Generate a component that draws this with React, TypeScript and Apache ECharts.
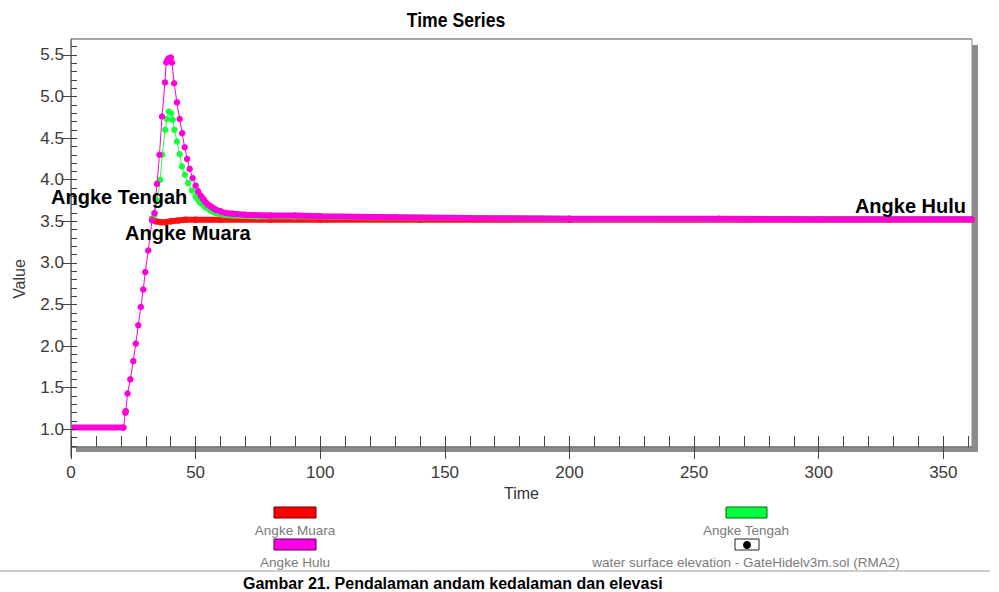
import React, { useEffect, useRef } from "react";
import * as echarts from "echarts";

// ---------- data (time, value) ----------
const huluStart: number[][] = [[0, 1.02], [21.1, 1.02]];
const huluMain: number[][] = [
  [21.1, 1.02], [21.8, 1.2], [22.0, 1.22], [22.7, 1.43], [23.8, 1.6], [25, 1.82], [26, 2.03], [27, 2.25],
  [28, 2.47], [29, 2.68], [29.8, 2.89], [31, 3.15], [32.5, 3.51], [33.5, 3.6], [34.5, 3.95], [35.5, 4.3],
  [36.5, 4.76], [37.7, 5.17], [38.2, 5.41], [38.7, 5.44], [39.2, 5.46], [40.1, 5.47], [40.5, 5.41],
  [41.4, 5.16], [42.5, 4.93], [43.6, 4.73], [44.6, 4.56], [45.6, 4.39], [46.6, 4.25], [47.6, 4.13],
  [48.8, 4.02], [50, 3.93], [51, 3.86], [52, 3.81], [53, 3.77], [54, 3.73], [55, 3.7], [56, 3.68],
  [57, 3.66], [58, 3.64], [60, 3.62], [62, 3.6], [65, 3.59], [70, 3.58], [80, 3.57], [90, 3.57],
  [100, 3.56], [130, 3.55], [160, 3.54], [200, 3.53], [260, 3.53], [300, 3.525], [361.5, 3.525],
];
const tengahMain: number[][] = [
  [32.5, 3.52], [33.5, 3.58], [34.5, 3.75], [35.8, 4.0], [36.6, 4.3], [37.8, 4.6], [38.5, 4.73],
  [39.2, 4.82], [40.2, 4.8], [40.8, 4.72], [41.5, 4.6], [42.5, 4.46], [43.6, 4.31], [44.5, 4.16],
  [45.7, 4.06], [47, 3.96], [48.5, 3.87], [50, 3.8], [52, 3.72], [54, 3.67], [56, 3.63], [58, 3.6],
  [61, 3.58], [65, 3.57], [75, 3.56], [90, 3.56], [120, 3.55], [200, 3.53], [361.5, 3.525],
];
const muaraMain: number[][] = [
  [32.5, 3.53], [34, 3.5], [36, 3.49], [38, 3.49], [40, 3.5], [43, 3.51], [46, 3.52], [50, 3.52],
  [60, 3.52], [80, 3.52], [100, 3.52], [140, 3.52], [200, 3.52], [361.5, 3.52],
];

const X_LABELS = [0, 50, 100, 150, 200, 250, 300, 350];
const Y_LABELS = [1.0, 1.5, 2.0, 2.5, 3.0, 3.5, 4.0, 4.5, 5.0, 5.5];
const X_MIN = 0, X_MAX = 361.5, Y_MIN = 0.787, Y_MAX = 5.692;

const RED = "#ff1010";
const GREEN = "#1aff3c";
const MAGENTA = "#ff00d8";

export default function App() {
  const ref = useRef<HTMLDivElement>(null);
  useEffect(() => {
    if (!ref.current) return;
    const chart = echarts.init(ref.current, undefined, { renderer: "svg" });
    const xMinor: number[] = [];
    for (let v = 10; v < X_MAX; v += 10) if (v % 50 !== 0) xMinor.push(v);
    const yMinor: number[] = [];
    for (let i = 8; i <= 56; i++) if (i % 5 !== 0) yMinor.push(i / 10);

    const tail = (d: number[][], from: number) => d.filter((p) => p[0] >= from);
    const dots = (name: string, data: number[][], color: string, z: number) => ({
      name, type: "line", data, z, xAxisIndex: 0, yAxisIndex: 0,
      symbol: "circle", symbolSize: 6.5, showAllSymbol: true,
      itemStyle: { color }, lineStyle: { color, width: 1 }, silent: true,
    });
    const band = (name: string, data: number[][], color: string, z: number) => ({
      name, type: "line", data, z, xAxisIndex: 0, yAxisIndex: 0,
      symbol: "none", lineStyle: { color, width: 6 }, silent: true,
    });

    const legendText = { fill: "#7a7a7a", font: "13.5px Arial" };

    chart.setOption({
      animation: false,
      backgroundColor: "#ffffff",
      grid: { left: 71, top: 39, right: 27, bottom: 145, show: false },
      xAxis: [
        {
          type: "value", min: X_MIN, max: X_MAX, interval: 50, z: 6,
          axisLine: { show: true, lineStyle: { color: "#7a7a7a", width: 1 } },
          axisTick: { show: true, inside: false, length: 12, lineStyle: { color: "#444" }, customValues: X_LABELS },
          axisLabel: { customValues: X_LABELS, color: "#3a3a3a", fontSize: 17, fontFamily: "Arial", margin: 17 },
          splitLine: { show: false },
          name: "Time", nameLocation: "middle", nameGap: 38,
          nameTextStyle: { color: "#333", fontSize: 16, fontFamily: "Arial" },
        },
        {
          type: "value", min: X_MIN, max: X_MAX, position: "bottom", z: 6,
          axisLine: { show: false },
          axisTick: { show: true, inside: true, length: 11, lineStyle: { color: "#444" }, customValues: X_LABELS.concat(xMinor) },
          axisLabel: { show: false }, splitLine: { show: false },
        },
      ],
      yAxis: [
        {
          type: "value", min: Y_MIN, max: Y_MAX, z: 6,
          axisLine: { show: true, lineStyle: { color: "#7a7a7a", width: 1 } },
          axisTick: { show: true, inside: false, length: 9, lineStyle: { color: "#444" }, customValues: Y_LABELS },
          axisLabel: {
            customValues: Y_LABELS, color: "#3a3a3a", fontSize: 17, fontFamily: "Arial", margin: 7,
            formatter: (v: number) => v.toFixed(1),
          },
          splitLine: { show: false },
        },
        {
          type: "value", min: Y_MIN, max: Y_MAX, position: "left", z: 6,
          axisLine: { show: false },
          axisTick: { show: true, inside: true, length: 6, lineStyle: { color: "#444" }, customValues: Y_LABELS.concat(yMinor) },
          axisLabel: { show: false }, splitLine: { show: false },
        },
      ],
      series: [
        band("Angke Muara", muaraMain, RED, 2),
        dots("Angke Muara", muaraMain, RED, 2),
        band("Angke Tengah", tail(tengahMain, 50), GREEN, 3),
        dots("Angke Tengah", tengahMain, GREEN, 3),
        band("Angke Hulu", huluStart, MAGENTA, 4),
        band("Angke Hulu", tail(huluMain, 52), MAGENTA, 4),
        dots("Angke Hulu", huluMain, MAGENTA, 4),
      ],
      graphic: [
        // frame
        { type: "line", z: 1, shape: { x1: 71, y1: 39, x2: 972, y2: 39 }, style: { stroke: "#8a8a8a", lineWidth: 1.5 } },
        { type: "line", z: 1, shape: { x1: 972, y1: 39, x2: 972, y2: 447 }, style: { stroke: "#8a8a8a", lineWidth: 1 } },
        { type: "line", z: 1, shape: { x1: 71, y1: 39, x2: 71, y2: 457 }, style: { stroke: "#7a7a7a", lineWidth: 1.5 } },
        { type: "rect", z: 1, shape: { x: 76, y: 446, width: 902, height: 6 }, style: { fill: "#8c8c8c" } },
        { type: "rect", z: 1, shape: { x: 972, y: 45, width: 6, height: 407 }, style: { fill: "#8c8c8c" } },
        // title
        { type: "text", x: 456, y: 20, scaleX: 0.88, z: 10,
          style: { text: "Time Series", fill: "#000", font: "bold 20px Arial", align: "center", verticalAlign: "middle" } },
        // y name
        { type: "text", x: 19, y: 279, rotation: Math.PI / 2, z: 10,
          style: { text: "Value", fill: "#3a3a3a", font: "16px Arial", align: "center", verticalAlign: "middle" } },
        // in-plot labels
        { type: "text", x: 51, y: 197, z: 10,
          style: { text: "Angke Tengah", fill: "#000", font: "bold 20px Arial", align: "left", verticalAlign: "middle" } },
        { type: "text", x: 125, y: 233, z: 10,
          style: { text: "Angke Muara", fill: "#000", font: "bold 20px Arial", align: "left", verticalAlign: "middle" } },
        { type: "text", x: 966, y: 206, z: 10,
          style: { text: "Angke Hulu", fill: "#000", font: "bold 20px Arial", align: "right", verticalAlign: "middle" } },
        // legend
        { type: "rect", shape: { x: 274, y: 507, width: 42, height: 11 }, style: { fill: "#ff0000", stroke: "#600", lineWidth: 1 } },
        { type: "text", x: 295, y: 530, style: { ...legendText, text: "Angke Muara", align: "center", verticalAlign: "middle" } },
        { type: "rect", shape: { x: 274, y: 539, width: 42, height: 11 }, style: { fill: "#ff00e6", stroke: "#505", lineWidth: 1 } },
        { type: "text", x: 295, y: 562, style: { ...legendText, text: "Angke Hulu", align: "center", verticalAlign: "middle" } },
        { type: "rect", shape: { x: 726, y: 507, width: 41, height: 11 }, style: { fill: "#00ff40", stroke: "#060", lineWidth: 1 } },
        { type: "text", x: 746, y: 530, style: { ...legendText, text: "Angke Tengah", align: "center", verticalAlign: "middle" } },
        { type: "rect", shape: { x: 735, y: 539, width: 24, height: 11 }, style: { fill: "#fff", stroke: "#222", lineWidth: 1 } },
        { type: "circle", shape: { cx: 747, cy: 545, r: 4 }, style: { fill: "#000" } },
        { type: "text", x: 746, y: 562, style: { ...legendText, text: "water surface elevation - GateHidelv3m.sol (RMA2)", align: "center", verticalAlign: "middle" } },
        // separator & caption
        { type: "line", shape: { x1: 0, y1: 571, x2: 990, y2: 571 }, style: { stroke: "#9a9a9a", lineWidth: 1 } },
        { type: "text", x: 243, y: 575, style: { text: "Gambar 21. Pendalaman andam kedalaman dan elevasi", fill: "#000", font: "bold 16px Arial", align: "left", verticalAlign: "top" } },
      ],
    });
    return () => chart.dispose();
  }, []);
  return <div ref={ref} style={{ width: 999, height: 592, position: "absolute", left: 0, top: 0 }} />;
}
